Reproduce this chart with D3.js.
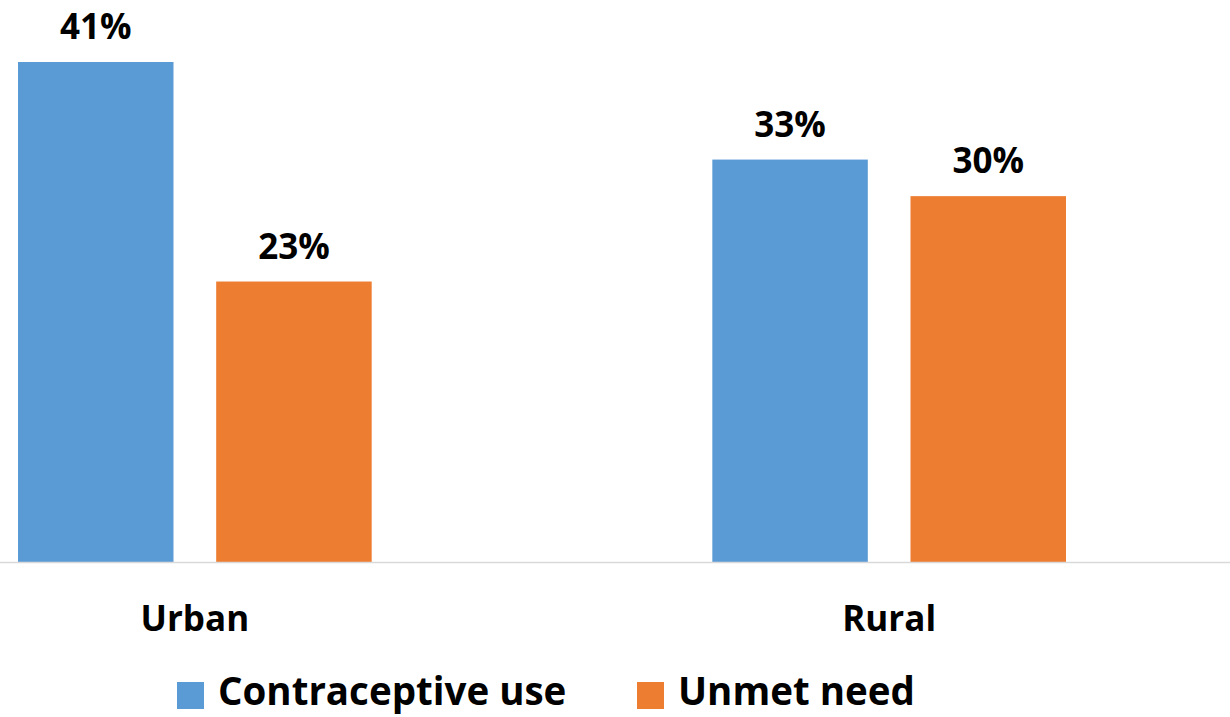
<!DOCTYPE html>
<html>
<head>
<meta charset="utf-8">
<script src="https://cdn.jsdelivr.net/npm/d3@7"></script>
<style>
  html, body { margin: 0; padding: 0; background: #fff; }
  svg { display: block; font-family: "Open Sans", Lato, sans-serif; font-weight: 700; }
</style>
</head>
<body>
<svg id="chart" width="1230" height="717"></svg>
<script>
// Chart data
const categories = ["Urban", "Rural"];
const seriesNames = ["Contraceptive use", "Unmet need"];
const contraceptiveUse = [41, 33];
const unmetNeed = [23, 30];
const seriesColors = ["#5B9BD5", "#ED7D31"];

const seriesValues = [contraceptiveUse, unmetNeed];

const width = 1230, height = 717;
const baseline = 562;
const svg = d3.select("#chart");

// Scales
const x0 = d3.scaleBand()
  .domain(categories)
  .range([18, 1066])
  .paddingInner(0.4906)
  .paddingOuter(0);

const x1 = d3.scaleBand()
  .domain(seriesNames)
  .range([0, x0.bandwidth()])
  .paddingInner(0.2154)
  .paddingOuter(0);

const y = d3.scaleLinear()
  .domain([0, 45])
  .range([baseline, baseline - 45 * 12.195]);

// Bars
const groups = svg.append("g")
  .selectAll("g")
  .data(categories)
  .join("g")
  .attr("transform", d => `translate(${x0(d)},0)`);

groups.selectAll("rect")
  .data((c, ci) => seriesNames.map((s, si) => ({ s, si, v: seriesValues[si][ci] })))
  .join("rect")
  .attr("x", d => x1(d.s))
  .attr("width", x1.bandwidth())
  .attr("y", d => y(d.v))
  .attr("height", d => y(0) - y(d.v))
  .attr("fill", d => seriesColors[d.si]);

// Value labels
groups.selectAll("text.value")
  .data((c, ci) => seriesNames.map((s, si) => ({ s, si, v: seriesValues[si][ci] })))
  .join("text")
  .attr("class", "value")
  .attr("x", d => x1(d.s) + x1.bandwidth() / 2)
  .attr("y", d => y(d.v) - 23)
  .attr("text-anchor", "middle")
  .attr("font-size", 35)
  .attr("fill", "#000")
  .text(d => d.v + "%");

// Category axis
svg.append("line")
  .attr("x1", 0).attr("x2", width)
  .attr("y1", baseline + 0.5).attr("y2", baseline + 0.5)
  .attr("stroke", "#d9d9d9")
  .attr("stroke-width", 1.5);

svg.append("g")
  .selectAll("text")
  .data(categories)
  .join("text")
  .attr("x", d => x0(d) + x0.bandwidth() / 2)
  .attr("y", 631)
  .attr("text-anchor", "middle")
  .attr("font-size", 35)
  .attr("fill", "#000")
  .text(d => d);

// Legend
const legendX = [177, 637];
const legend = svg.append("g")
  .selectAll("g")
  .data(seriesNames)
  .join("g")
  .attr("transform", (d, i) => `translate(${legendX[i]},682)`);

legend.append("rect")
  .attr("width", 27).attr("height", 27)
  .attr("fill", (d, i) => seriesColors[i]);

legend.append("text")
  .attr("x", 41)
  .attr("y", 23)
  .attr("font-size", 38.5)
  .attr("fill", "#000")
  .text(d => d);
</script>
</body>
</html>
